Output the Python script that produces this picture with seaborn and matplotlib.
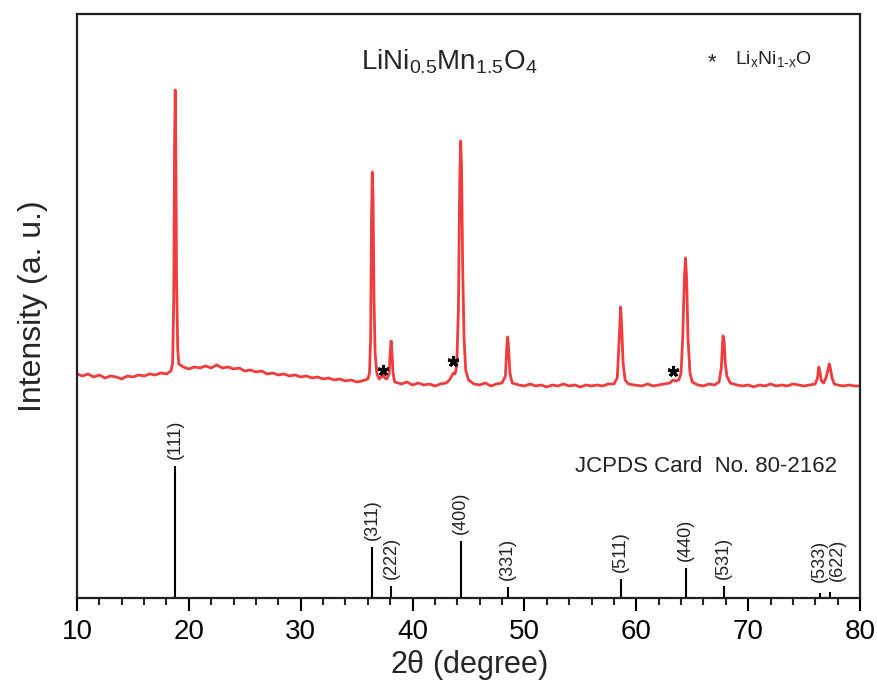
import matplotlib
matplotlib.use('Agg')
import matplotlib.pyplot as plt
import seaborn as sns
import pandas as pd
from matplotlib.ticker import MultipleLocator

# XRD pattern (intensity in arbitrary units)
two_theta = [
    10.0, 10.5, 11.0, 11.5, 12.0, 12.5, 13.0, 13.5, 14.0, 14.5, 15.0, 15.5, 16.0, 16.5,
    17.0, 17.5, 18.0, 18.4, 18.55, 18.65, 18.72, 18.78, 18.84, 18.9, 19.0, 19.1,
    19.5, 20.0, 20.5, 21.0, 21.5, 22.0, 22.5, 23.0, 23.5, 24.0, 24.5, 25.0, 25.5, 26.0,
    26.5, 27.0, 27.5, 28.0, 28.5, 29.0, 29.5, 30.0, 30.5, 31.0, 31.5, 32.0, 32.5, 33.0,
    33.5, 34.0, 34.5, 35.0, 35.5, 36.0, 36.15, 36.25, 36.33, 36.4, 36.47, 36.55, 36.65,
    36.8, 37.0, 37.2, 37.35, 37.5, 37.7, 37.9, 38.0, 38.08, 38.16, 38.25, 38.4, 38.7,
    39.0, 39.5, 40.0, 40.5, 41.0, 41.5, 42.0, 42.5, 43.0, 43.3, 43.5, 43.65, 43.8, 43.95,
    44.1, 44.22, 44.3, 44.38, 44.48, 44.6, 44.75, 45.0, 45.5, 46.0, 46.5, 47.0, 47.5,
    48.0, 48.3, 48.42, 48.5, 48.58, 48.7, 48.9, 49.5, 50.0, 50.5, 51.0, 51.5, 52.0, 52.5,
    53.0, 53.5, 54.0, 54.5, 55.0, 55.5, 56.0, 56.5, 57.0, 57.5, 58.0, 58.3, 58.48, 58.6,
    58.7, 58.82, 59.0, 59.3, 59.8, 60.5, 61.0, 61.5, 62.0, 62.5, 63.0, 63.3, 63.5, 63.8,
    64.0, 64.15, 64.3, 64.4, 64.5, 64.62, 64.8, 65.0, 65.5, 66.0, 66.5, 67.0, 67.4, 67.6,
    67.75, 67.85, 67.95, 68.1, 68.4, 69.0, 69.5, 70.0, 70.5, 71.0, 71.5, 72.0, 72.5, 73.0,
    73.5, 74.0, 74.5, 75.0, 75.5, 76.0, 76.2, 76.32, 76.42, 76.55, 76.75, 76.95, 77.1,
    77.25, 77.35, 77.5, 77.7, 78.0, 78.5, 79.0, 79.5, 80.0,
]
intensity = [
    224, 222, 224, 221, 223, 220, 222, 221, 219, 222, 221, 223, 222, 224,
    223, 225, 224, 227, 235, 300, 450, 508, 440, 320, 250, 234,
    231, 229, 231, 230, 232, 230, 233, 230, 231, 229, 230, 227, 228, 226,
    227, 224, 225, 223, 224, 222, 223, 221, 222, 220, 221, 219, 220, 218,
    219, 217, 218, 216, 217, 219, 225, 260, 380, 426, 400, 300, 245,
    225, 219, 221, 224, 220, 219, 224, 245, 257, 245, 225, 216, 215,
    214, 216, 213, 215, 213, 214, 212, 214, 215, 218, 222, 225, 224, 232,
    290, 420, 457, 430, 330, 260, 228, 218, 214, 213, 215, 212, 214,
    215, 222, 250, 261, 250, 225, 215, 213, 212, 214, 212, 213, 211, 213,
    212, 214, 212, 213, 211, 213, 212, 213, 212, 214, 214, 220, 260, 291,
    270, 235, 218, 214, 213, 212, 214, 212, 213, 214, 215, 218, 217, 218,
    225, 260, 320, 340, 320, 260, 225, 216, 213, 212, 214, 213, 216, 230,
    262, 258, 235, 222, 215, 213, 212, 213, 211, 213, 212, 214, 212, 213,
    212, 214, 213, 212, 213, 214, 220, 231, 226, 217, 215, 220, 226,
    234, 230, 220, 214, 213, 212, 213, 212, 212,
]

# impurity (LixNi1-xO) reflections marked with stars
star_theta = [37.35, 43.6, 63.3]
star_height = [228, 237, 227]

# JCPDS card 80-2162 reference lines
ref_theta = [18.8, 36.4, 38.1, 44.3, 48.5, 58.6, 64.4, 67.8, 76.4, 77.3]
ref_height = [132, 51, 12, 57, 11, 19, 30, 12, 5, 6]
ref_hkl = ['(111)', '(311)', '(222)', '(400)', '(331)', '(511)', '(440)', '(531)', '(533)', '(622)']

xrd = pd.DataFrame({'two_theta': two_theta, 'intensity': intensity})

sns.set_theme(style='white')
plt.rcParams['font.family'] = ['Liberation Sans', 'DejaVu Sans']
plt.rcParams['mathtext.fontset'] = 'custom'
plt.rcParams['mathtext.rm'] = 'Liberation Sans'
plt.rcParams['mathtext.it'] = 'Liberation Sans'
plt.rcParams['mathtext.default'] = 'regular'

fig = plt.figure(figsize=(8.78, 6.83), dpi=100)
ax = fig.add_axes([0.0877, 0.1245, 0.8918, 0.855])

sns.lineplot(data=xrd, x='two_theta', y='intensity', color='#F03C3C', linewidth=2.0, ax=ax)
ax.plot(star_theta, star_height, linestyle='none', marker=(5, 2), markersize=8,
        markeredgewidth=2.2, color='black')

ax.vlines(ref_theta, 0, ref_height, color='black', linewidth=1.5)
nudge = {'(622)': 0.7}
for t, h, lab in zip(ref_theta, ref_height, ref_hkl):
    extra = 4 if lab in ('(533)', '(622)') else 0
    ax.text(t + nudge.get(lab, 0), h + 7 + extra, lab, rotation=90, ha='center', va='bottom',
            fontsize=13, color='#222222')

ax.text(35.4, 528, r'LiNi$_{0.5}$Mn$_{1.5}$O$_4$', fontsize=20, ha='left', va='baseline')
ax.text(66.75, 530, '*', fontsize=16, ha='center', va='baseline')
ax.text(68.8, 534, r'Li$_x$Ni$_{1\text{-}x}$O', fontsize=14, ha='left', va='baseline')
ax.text(54.5, 126, 'JCPDS Card  No. 80-2162', fontsize=16, ha='left', va='baseline',
        color='#222222')

ax.set_xlim(10, 80)
ax.set_ylim(0, 584)
ax.set_yticks([])
ax.xaxis.set_major_locator(MultipleLocator(10))
ax.xaxis.set_minor_locator(MultipleLocator(2))
ax.tick_params(axis='x', which='major', direction='out', length=9, width=1.5,
               labelsize=20, pad=6, bottom=True, colors='black')
ax.tick_params(axis='x', which='minor', direction='out', length=5, width=1.5, bottom=True)
for s in ax.spines.values():
    s.set_color('#222222')
    s.set_linewidth(1.6)

ax.set_xlabel(r'2$\theta$ (degree)', fontsize=22, labelpad=2)
ax.set_ylabel('Intensity (a. u.)', fontsize=23, labelpad=21)

fig.savefig('out.png', dpi=100)
